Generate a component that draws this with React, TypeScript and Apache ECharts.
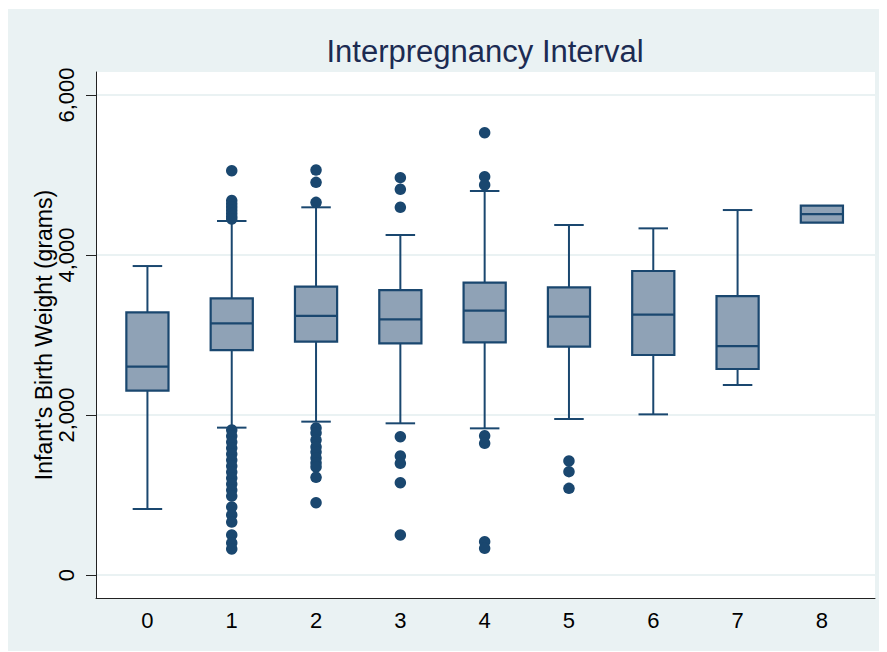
import React, { useEffect, useRef } from "react";
import * as echarts from "echarts";

const categories = ["0", "1", "2", "3", "4", "5", "6", "7", "8"];
const lowerWhisker = [825, 1842, 1917, 1896, 1833, 1950, 2008, 2375, 4404];
const q1 = [2304, 2812, 2917, 2896, 2908, 2854, 2750, 2575, 4404];
const median = [2604, 3146, 3238, 3196, 3304, 3229, 3254, 2862, 4512];
const q3 = [3283, 3458, 3604, 3562, 3654, 3596, 3800, 3487, 4617];
const upperWhisker = [3862, 4425, 4596, 4250, 4800, 4375, 4333, 4562, 4617];
const outliers: number[][] = [
  [],
  [
    5054, 4680, 4640, 4600, 4560, 4520, 4480, 4450,
    1812, 1737, 1662, 1587, 1512, 1437, 1362, 1287, 1212, 1137, 1062, 987,
    850, 750, 662, 500, 400, 325,
  ],
  [5062, 4908, 4658, 1837, 1775, 1687, 1600, 1537, 1462, 1400, 1350, 1221, 904],
  [4967, 4821, 4596, 1729, 1487, 1396, 1154, 500],
  [5529, 4979, 4875, 1740, 1646, 417, 333],
  [1425, 1292, 1083],
  [],
  [],
  [],
];
const yTicks = [0, 2000, 4000, 6000];
const titleText = "Interpregnancy Interval";
const yAxisTitle = "Infant's Birth Weight (grams)";

const NAVY = "#1A476F";
const FONT = "'Liberation Sans', Arial, Helvetica, sans-serif";

export default function App() {
  const ref = useRef<HTMLDivElement>(null);
  useEffect(() => {
    if (!ref.current) return;
    const chart = echarts.init(ref.current, undefined, { renderer: "svg" });
    const boxData = categories.map((c, i) => [
      i,
      lowerWhisker[i],
      q1[i],
      median[i],
      q3[i],
      upperWhisker[i],
    ]);
    const outlierData: number[][] = [];
    outliers.forEach((arr, i) => arr.forEach((v) => outlierData.push([i, v])));

    chart.setOption({
      animation: false,
      backgroundColor: "#EAF2F3",
      title: {
        text: titleText,
        left: 477,
        top: 27,
        textAlign: "center",
        padding: 0,
        textStyle: {
          fontFamily: FONT,
          fontSize: 31,
          fontWeight: "normal",
          color: "#1C2B52",
        },
      },
      grid: {
        left: 88,
        right: 12,
        top: 63,
        bottom: 54,
        show: true,
        backgroundColor: "#FFFFFF",
        borderWidth: 0,
      },
      xAxis: {
        type: "value",
        min: -0.61,
        max: 8.63,
        axisLine: { show: true, onZero: false, lineStyle: { color: "#222", width: 1 } },
        axisTick: { show: false },
        splitLine: { show: false },
        axisLabel: {
          customValues: categories.map((c, i) => i),
          formatter: (v: number) => categories[Math.round(v)] ?? "",
          fontFamily: FONT,
          fontSize: 22,
          color: "#000",
          margin: 11,
        },
      },
      yAxis: {
        type: "value",
        min: -287.5,
        max: 6287.5,
        name: yAxisTitle,
        nameLocation: "middle",
        nameGap: 41,
        nameMoveOverlap: false,
        nameTextStyle: { fontFamily: FONT, fontSize: 23, color: "#000" },
        axisLine: { show: true, onZero: false, lineStyle: { color: "#222", width: 1 } },
        axisTick: {
          show: true,
          length: 10,
          customValues: yTicks,
          lineStyle: { color: "#222", width: 1 },
        },
        splitLine: { show: true, lineStyle: { color: "#EAF2F3", width: 2 } },
        axisLabel: {
          customValues: yTicks,
          rotate: 90,
          margin: 19,
          formatter: (v: number) => v.toLocaleString("en-US"),
          fontFamily: FONT,
          fontSize: 22,
          color: "#000",
        },
      },
      series: [
        {
          type: "custom",
          data: boxData,
          encode: { x: 0, y: [1, 2, 3, 4, 5] },
          renderItem: (params: any, api: any) => {
            const i = api.value(0);
            const bw = api.size([1, 0])[0];
            const boxHalf = bw * 0.25;
            const capHalf = bw * 0.175;
            const pLow = api.coord([i, api.value(1)]);
            const pQ1 = api.coord([i, api.value(2)]);
            const pMed = api.coord([i, api.value(3)]);
            const pQ3 = api.coord([i, api.value(4)]);
            const pHigh = api.coord([i, api.value(5)]);
            const cx = pQ1[0];
            const lineStyle = { stroke: NAVY, lineWidth: 2, fill: null };
            const children: any[] = [];
            if (api.value(1) < api.value(2)) {
              children.push({
                type: "line",
                shape: { x1: cx, y1: pQ1[1], x2: cx, y2: pLow[1] },
                style: lineStyle,
              });
              children.push({
                type: "line",
                shape: { x1: cx - capHalf, y1: pLow[1], x2: cx + capHalf, y2: pLow[1] },
                style: lineStyle,
              });
            }
            if (api.value(5) > api.value(4)) {
              children.push({
                type: "line",
                shape: { x1: cx, y1: pQ3[1], x2: cx, y2: pHigh[1] },
                style: lineStyle,
              });
              children.push({
                type: "line",
                shape: { x1: cx - capHalf, y1: pHigh[1], x2: cx + capHalf, y2: pHigh[1] },
                style: lineStyle,
              });
            }
            children.push({
              type: "rect",
              shape: {
                x: cx - boxHalf,
                y: pQ3[1],
                width: boxHalf * 2,
                height: pQ1[1] - pQ3[1],
              },
              style: { fill: "#8FA2B6", stroke: NAVY, lineWidth: 2.2 },
            });
            children.push({
              type: "line",
              shape: { x1: cx - boxHalf, y1: pMed[1], x2: cx + boxHalf, y2: pMed[1] },
              style: { stroke: NAVY, lineWidth: 2.2 },
            });
            return { type: "group", children };
          },
          z: 3,
        },
        {
          type: "scatter",
          data: outlierData,
          symbol: "circle",
          symbolSize: 11.5,
          itemStyle: { color: NAVY, opacity: 1 },
          z: 4,
        },
      ],
    });
    return () => chart.dispose();
  }, []);
  return (
    <div
      ref={ref}
      style={{ width: 879, height: 643, position: "relative", top: 1 }}
    />
  );
}
